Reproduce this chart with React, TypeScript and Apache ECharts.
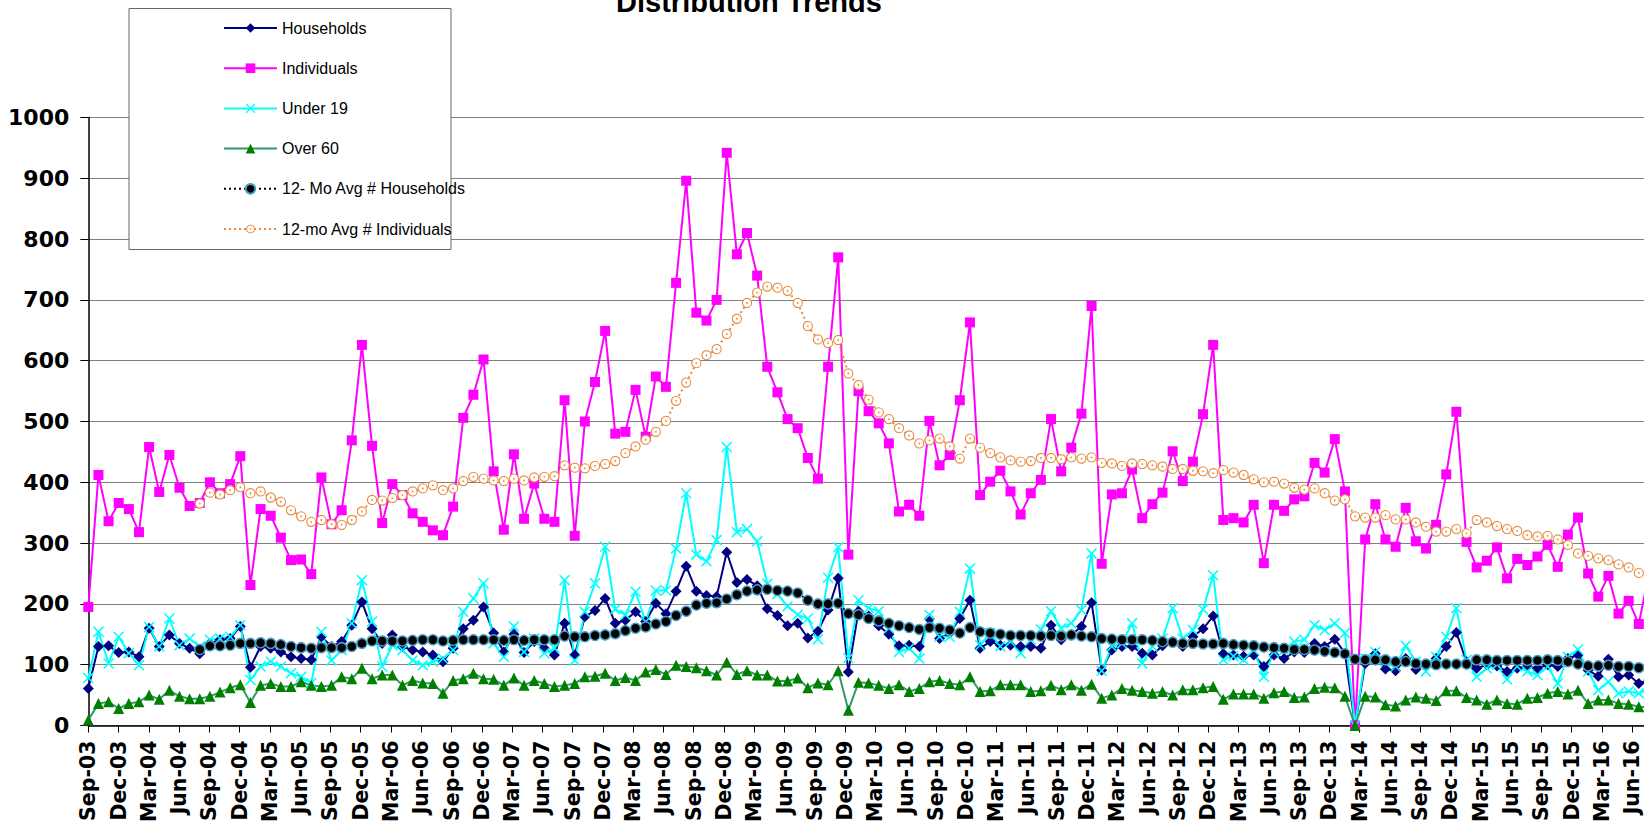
import React, { useEffect, useRef } from "react";
import * as echarts from "echarts";

const MONTH_ABBR = ["Jan", "Feb", "Mar", "Apr", "May", "Jun", "Jul", "Aug", "Sep", "Oct", "Nov", "Dec"];
const START_YEAR = 2003;
const START_MONTH = 8; // Sep
const N_CATS = 158;
const categories: string[] = Array.from({ length: N_CATS }, (_, k) => {
  const m = START_MONTH + k;
  const y = START_YEAR + Math.floor(m / 12);
  return MONTH_ABBR[m % 12] + "-" + String(y % 100).padStart(2, "0");
});

const households = [
  61, 130, 131, 120, 121, 113, 160, 130, 149, 135,
  127, 118, 135, 141, 143, 163, 96, 130, 127, 121,
  113, 110, 108, 146, 130, 138, 165, 203, 159, 135,
  149, 130, 124, 121, 116, 105, 127, 159, 173, 195,
  152, 121, 150, 120, 138, 127, 116, 168, 116, 179,
  189, 209, 168, 173, 187, 171, 201, 184, 221, 262,
  221, 214, 212, 285, 235, 240, 230, 192, 181, 164,
  168, 144, 155, 190, 242, 88, 188, 180, 164, 150,
  131, 132, 130, 175, 143, 152, 176, 206, 127, 138,
  132, 132, 130, 130, 127, 165, 141, 149, 163, 202,
  91, 124, 130, 130, 119, 116, 131, 138, 130, 146,
  159, 180, 118, 116, 114, 116, 97, 116, 110, 121,
  120, 135, 130, 142, 119, 0, 102, 118, 93, 90,
  110, 92, 100, 110, 130, 153, 105, 94, 100, 98,
  89, 94, 97, 94, 100, 97, 110, 116, 91, 81,
  109, 80, 83, 69, 75,
];

const individuals = [
  195, 412, 336, 366, 356, 318, 458, 384, 445, 391,
  361, 366, 400, 382, 397, 443, 231, 356, 345, 309,
  272, 273, 249, 408, 331, 354, 469, 626, 460, 333,
  397, 379, 349, 335, 321, 313, 360, 506, 544, 602,
  418, 322, 446, 340, 398, 340, 335, 535, 312, 500,
  565, 649, 480, 483, 552, 475, 574, 557, 728, 896,
  679, 666, 700, 942, 775, 810, 740, 590, 548, 504,
  489, 440, 406, 590, 770, 281, 550, 517, 497, 464,
  352, 363, 345, 501, 428, 445, 535, 663, 379, 401,
  419, 385, 347, 382, 404, 504, 418, 457, 513, 690,
  266, 380, 382, 421, 341, 364, 383, 451, 402, 434,
  512, 626, 338, 341, 334, 363, 267, 363, 353, 372,
  377, 432, 416, 471, 385, 0, 306, 364, 306, 294,
  358, 303, 291, 330, 413, 516, 302, 260, 271, 293,
  242, 274, 264, 278, 297, 261, 314, 342, 250, 212,
  246, 184, 205, 167, 250,
];

const under19 = [
  78, 154, 102, 146, 119, 99, 162, 130, 176, 132,
  143, 130, 141, 143, 146, 165, 75, 97, 105, 97,
  86, 80, 70, 154, 107, 124, 168, 239, 171, 97,
  132, 124, 107, 99, 105, 110, 124, 187, 209, 234,
  135, 113, 163, 121, 143, 119, 127, 239, 107, 187,
  234, 294, 191, 182, 220, 171, 222, 222, 291, 382,
  281, 270, 305, 458, 318, 323, 303, 233, 216, 196,
  182, 176, 142, 243, 293, 111, 206, 193, 188, 160,
  121, 127, 110, 182, 146, 146, 187, 258, 132, 152,
  130, 138, 119, 141, 158, 188, 160, 168, 190, 283,
  90, 130, 135, 168, 102, 130, 143, 193, 143, 157,
  191, 247, 108, 114, 108, 124, 80, 121, 124, 138,
  141, 165, 157, 168, 152, 0, 110, 121, 105, 97,
  131, 105, 89, 113, 146, 193, 108, 80, 94, 100,
  76, 97, 89, 83, 97, 69, 113, 125, 89, 58,
  72, 53, 56, 53, 60,
];

const over60 = [
  9, 36, 39, 28, 36, 39, 50, 43, 58, 48,
  44, 44, 48, 55, 62, 67, 38, 66, 69, 64,
  64, 72, 66, 64, 66, 80, 77, 94, 77, 83,
  83, 66, 74, 70, 69, 53, 74, 77, 86, 77,
  76, 66, 78, 66, 74, 69, 64, 66, 69, 80,
  81, 86, 74, 79, 74, 88, 92, 84, 99, 97,
  95, 90, 83, 104, 84, 90, 83, 83, 73, 73,
  78, 62, 70, 67, 90, 25, 71, 70, 66, 61,
  67, 56, 61, 72, 74, 69, 67, 80, 56, 57,
  67, 67, 67, 56, 57, 66, 59, 67, 58, 68,
  45, 50, 61, 58, 56, 53, 56, 50, 59, 59,
  62, 64, 43, 52, 52, 52, 45, 54, 56, 46,
  47, 61, 63, 62, 48, 0, 48, 47, 34, 32,
  42, 47, 45, 41, 57, 57, 46, 42, 35, 42,
  36, 35, 45, 46, 53, 56, 52, 58, 36, 42,
  42, 36, 35, 31, 30,
];

const avgHouseholds = [
  null, null, null, null, null, null, null, null, null, null,
  null, 125, 131, 131, 132, 135, 135, 136, 135, 133,
  130, 128, 127, 128, 128, 128, 130, 135, 139, 139,
  139, 139, 140, 141, 141, 139, 140, 141, 141, 141,
  141, 140, 141, 140, 141, 141, 141, 147, 146, 146,
  148, 149, 151, 156, 160, 162, 167, 171, 181, 188,
  198, 201, 202, 208, 215, 221, 223, 224, 222, 221,
  218, 206, 200, 200, 201, 184, 182, 176, 172, 168,
  164, 161, 158, 161, 160, 157, 152, 161, 154, 152,
  150, 148, 148, 148, 147, 148, 147, 149, 147, 146,
  143, 142, 141, 141, 141, 140, 138, 137, 135, 135,
  134, 134, 135, 133, 132, 131, 129, 128, 127, 125,
  125, 124, 122, 120, 118, 109, 108, 108, 108, 105,
  105, 102, 101, 100, 101, 101, 101, 108, 108, 107,
  107, 107, 107, 107, 108, 107, 105, 101, 98, 98,
  99, 97, 97, 95, 94,
];

const avgIndividuals = [
  null, null, null, null, null, null, null, null, null, null,
  null, 365, 383, 380, 387, 392, 382, 385, 375, 368,
  354, 344, 335, 338, 331, 330, 338, 352, 371, 370,
  374, 379, 385, 390, 395, 387, 390, 402, 409, 406,
  403, 402, 406, 403, 408, 409, 410, 428, 424, 423,
  427, 430, 435, 448, 459, 470, 483, 501, 534, 564,
  596, 609, 619, 644, 669, 695, 712, 722, 720, 715,
  695, 657, 635, 629, 634, 579, 560, 536, 515, 504,
  489, 477, 464, 469, 472, 459, 439, 472, 457, 448,
  441, 436, 434, 435, 440, 440, 438, 441, 439, 441,
  432, 431, 427, 431, 430, 428, 426, 422, 422, 419,
  418, 415, 420, 416, 412, 405, 400, 401, 398, 391,
  388, 390, 382, 370, 372, 344, 342, 342, 346, 339,
  339, 334, 327, 319, 319, 323, 316, 338, 334, 328,
  323, 320, 313, 311, 312, 306, 297, 283, 279, 275,
  272, 265, 260, 251, 246,
];

const yTicks = { min: 0, max: 1000, interval: 100 };
const seriesNames = [
  "Households",
  "Individuals",
  "Under 19",
  "Over 60",
  "12- Mo Avg # Households",
  "12-mo Avg # Individuals",
];

const FONT = "Liberation Sans";
const AXIS_FONT = "DejaVu Sans";
const NAVY = "#000080";
const MAGENTA = "#FF00FF";
const CYAN = "#00FFFF";
const GREEN = "#008000";
const GREEN_LINE = "#339966";
const TEAL = "#4A9DC0";
const ORANGE = "#E8883A";

const X_SYMBOL =
  "path://M1,0 L5,4 L9,0 L10,1 L6,5 L10,9 L9,10 L5,6 L1,10 L0,9 L4,5 L0,1 Z";
const ringSvg =
  '<svg xmlns="http://www.w3.org/2000/svg" width="24" height="24" viewBox="0 0 24 24">' +
  '<circle cx="12" cy="12" r="10" fill="#ffffff" stroke="' + ORANGE + '" stroke-width="2.4"/>' +
  '<circle cx="12" cy="12" r="2" fill="' + ORANGE + '"/></svg>';
const RING_SYMBOL = "image://data:image/svg+xml;charset=utf-8," + encodeURIComponent(ringSvg);

const PT_STEP = 10.134;
const TICK_STEP = 10.09;
const GRID_LEFT = 88.3;
const GRID_TOP = 117.5;
const GRID_H = 608;

const common = { type: "line", showSymbol: true, showAllSymbol: true, xAxisIndex: 0, yAxisIndex: 0 };

export default function App() {
  const ref = useRef<HTMLDivElement>(null);
  useEffect(() => {
    if (!ref.current) return;
    const chart = echarts.init(ref.current, undefined, { renderer: "svg" });
    const option: any = {
      animation: false,
      backgroundColor: "#ffffff",
      grid: [
        { left: GRID_LEFT, top: GRID_TOP, width: PT_STEP * (N_CATS - 1), height: GRID_H, outerBoundsMode: "none" },
        { left: GRID_LEFT, top: GRID_TOP, width: TICK_STEP * (N_CATS - 1), height: GRID_H, outerBoundsMode: "none" },
      ],
      xAxis: [
        {
          type: "category",
          gridIndex: 0,
          data: categories,
          boundaryGap: false,
          axisLine: { show: true, lineStyle: { color: "#000", width: 1.5 } },
          axisTick: { show: false },
          axisLabel: { show: false },
          splitLine: { show: false },
        },
        {
          type: "category",
          gridIndex: 1,
          data: categories,
          boundaryGap: false,
          axisLine: { show: false },
          axisTick: { show: true, interval: 2, length: 7, lineStyle: { color: "#000", width: 1 } },
          axisLabel: {
            interval: 2,
            rotate: 90,
            margin: 15,
            color: "#000",
            fontFamily: AXIS_FONT,
            fontWeight: "bold",
            fontSize: 20.5,
          },
          splitLine: { show: false },
        },
      ],
      yAxis: [
        {
          type: "value",
          gridIndex: 0,
          min: yTicks.min,
          max: yTicks.max,
          interval: yTicks.interval,
          axisLine: { show: true, lineStyle: { color: "#000", width: 1.5 } },
          axisTick: { show: true, length: 8, lineStyle: { color: "#000" } },
          axisLabel: {
            margin: 19,
            color: "#000",
            fontFamily: AXIS_FONT,
            fontWeight: "bold",
            fontSize: 22,
            formatter: (v: number) => String(v),
          },
          splitLine: { show: true, lineStyle: { color: "#808080", width: 1 } },
        },
        { type: "value", gridIndex: 1, min: yTicks.min, max: yTicks.max, show: false },
      ],
      legend: {
        orient: "vertical",
        left: 218,
        top: 15,
        itemWidth: 53,
        itemHeight: 12,
        itemGap: 24.2,
        z: 10,
        data: seriesNames,
        textStyle: { fontFamily: FONT, fontSize: 16, color: "#000", lineHeight: 16 },
      },
      graphic: [
        {
          type: "rect",
          z: 5,
          shape: { x: 129, y: 8.5, width: 322, height: 241 },
          style: { fill: "#ffffff", stroke: "#666666", lineWidth: 1 },
        },
        {
          type: "text",
          z: 5,
          x: 749,
          y: 16,
          style: {
            text: "Distribution Trends",
            fontFamily: FONT,
            fontWeight: "bold",
            fontSize: 29,
            fill: "#000",
            align: "center",
            verticalAlign: "bottom",
          },
        },
      ],
      series: [
        {
          ...common,
          name: seriesNames[0],
          data: households,
          symbol: "diamond",
          symbolSize: 11,
          lineStyle: { color: NAVY, width: 2 },
          itemStyle: { color: NAVY },
        },
        {
          ...common,
          name: seriesNames[1],
          data: individuals,
          symbol: "rect",
          symbolSize: 10,
          lineStyle: { color: MAGENTA, width: 2 },
          itemStyle: { color: MAGENTA },
        },
        {
          ...common,
          name: seriesNames[2],
          data: under19,
          symbol: X_SYMBOL,
          symbolSize: 11,
          lineStyle: { color: CYAN, width: 2 },
          itemStyle: { color: CYAN },
        },
        {
          ...common,
          name: seriesNames[3],
          data: over60,
          symbol: "triangle",
          symbolSize: 11,
          lineStyle: { color: GREEN_LINE, width: 2 },
          itemStyle: { color: GREEN },
        },
        {
          ...common,
          name: seriesNames[4],
          data: avgHouseholds,
          symbol: "circle",
          symbolSize: 10,
          lineStyle: { color: "#000", width: 2, type: [2, 3] },
          itemStyle: { color: "#000", borderColor: TEAL, borderWidth: 1.5 },
        },
        {
          ...common,
          name: seriesNames[5],
          data: avgIndividuals,
          symbol: RING_SYMBOL,
          symbolSize: 11,
          lineStyle: { color: ORANGE, width: 2, type: [2, 3] },
          itemStyle: { color: ORANGE },
        },
      ],
    };
    chart.setOption(option);
    return () => chart.dispose();
  }, []);
  return (
    <div
      ref={ref}
      style={{ position: "fixed", left: 0, top: 0, width: 1644, height: 823, background: "#fff" }}
    />
  );
}
